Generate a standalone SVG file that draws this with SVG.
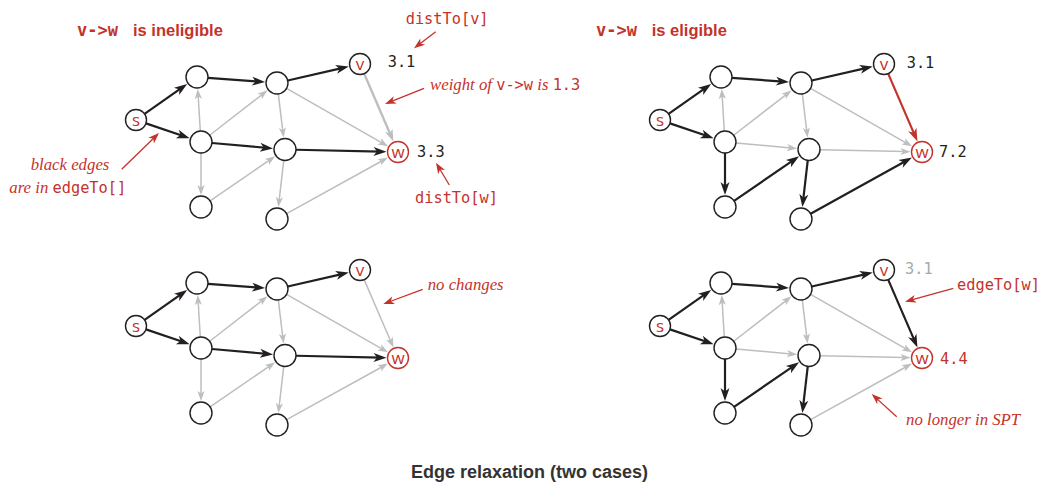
<svg xmlns="http://www.w3.org/2000/svg" width="1044" height="486" viewBox="0 0 1044 486">
<style>
.blk{stroke:#231f20;stroke-width:2.2;fill:none;marker-end:url(#ab)}
.gry{stroke:#bcbec0;stroke-width:1.5;fill:none;marker-end:url(#ag)}
.gryT{stroke:#bcbec0;stroke-width:2.4;fill:none;marker-end:url(#agT)}
.red{stroke:#c4332b;stroke-width:2.2;fill:none;marker-end:url(#ar)}
.ann{stroke:#c4332b;stroke-width:1.3;fill:none;marker-end:url(#aa)}
.nd{fill:#fff;stroke:#231f20;stroke-width:1.4}
.ndr{fill:#fff;stroke:#c4332b;stroke-width:1.4}
.lbl{font-family:"Open Sans","DejaVu Sans",sans-serif;font-size:17px;fill:#c4332b;text-anchor:middle}
.mono{font-family:"DejaVu Sans Mono","Liberation Mono",monospace;font-size:15.3px}
.it{font-family:"Liberation Serif",serif;font-style:italic;font-size:16.8px;fill:#c4332b}
.hd{font-family:"Liberation Sans",sans-serif;font-weight:bold;font-size:16.5px;fill:#c4332b}
.hdm{font-family:"DejaVu Sans Mono",monospace;font-weight:bold;font-size:17px;fill:#c4332b}
.dk{fill:#231f20}
.rd{fill:#c4332b}
</style>
<defs>
<marker id="ab" viewBox="-14 -6 16 12" refX="-6" refY="0" markerWidth="16" markerHeight="12" orient="auto" markerUnits="userSpaceOnUse"><path d="M0,0 L-13,-4.5 L-9.5,0 L-13,4.5 Z" fill="#231f20"/></marker>
<marker id="ar" viewBox="-14 -6 16 12" refX="-6" refY="0" markerWidth="16" markerHeight="12" orient="auto" markerUnits="userSpaceOnUse"><path d="M0,0 L-13,-4.5 L-9.5,0 L-13,4.5 Z" fill="#c4332b"/></marker>
<marker id="agT" viewBox="-14 -6 16 12" refX="-6" refY="0" markerWidth="16" markerHeight="12" orient="auto" markerUnits="userSpaceOnUse"><path d="M0,0 L-12,-4.2 L-9,0 L-12,4.2 Z" fill="#bcbec0"/></marker>
<marker id="ag" viewBox="-12 -5 14 10" refX="-6" refY="0" markerWidth="14" markerHeight="10" orient="auto" markerUnits="userSpaceOnUse"><path d="M0,0 L-10,-3.6 L-7.5,0 L-10,3.6 Z" fill="#bcbec0"/></marker>
<marker id="aa" viewBox="-13 -6 15 12" refX="-5" refY="0" markerWidth="15" markerHeight="12" orient="auto" markerUnits="userSpaceOnUse"><path d="M0,0 L-11,-4 L-8,0 L-11,4 Z" fill="#c4332b"/></marker>
</defs>

<g id="connectors">
 <g id="edges-tl">
  <line class="blk" x1="144.58" y1="113.95" x2="182.29" y2="87.37"/>
  <line class="blk" x1="145.95" y1="123.37" x2="183.95" y2="136.23"/>
  <line class="blk" x1="207.97" y1="77.82" x2="259.05" y2="81.65"/>
  <line class="blk" x1="287.72" y1="80.55" x2="342.94" y2="67.90"/>
  <line class="blk" x1="211.96" y1="142.98" x2="267.07" y2="147.90"/>
  <line class="blk" x1="296" y1="149.74" x2="380.50" y2="151.61"/>
  <line class="gry" x1="200.32" y1="131.02" x2="198.11" y2="94.97"/>
  <line class="gry" x1="209.69" y1="135.25" x2="262.78" y2="94.04"/>
  <line class="gry" x1="278.31" y1="93.92" x2="282.85" y2="131.63"/>
  <line class="gry" x1="286.56" y1="88.45" x2="382.80" y2="143.33"/>
  <line class="gryT" x1="364.16" y1="73.64" x2="391.06" y2="135.93"/>
  <line class="gry" x1="201" y1="153" x2="201" y2="189"/>
  <line class="gry" x1="210.08" y1="200.79" x2="270.15" y2="159.67"/>
  <line class="gry" x1="283.74" y1="160.43" x2="279.06" y2="201.12"/>
  <line class="gry" x1="286.62" y1="213.67" x2="382.69" y2="160.48"/>
 </g>
 <g id="edges-tr" transform="translate(524,0)">
  <line class="blk" x1="144.58" y1="113.95" x2="182.29" y2="87.37"/>
  <line class="blk" x1="145.95" y1="123.37" x2="183.95" y2="136.23"/>
  <line class="blk" x1="207.97" y1="77.82" x2="259.05" y2="81.65"/>
  <line class="blk" x1="287.72" y1="80.55" x2="342.94" y2="67.90"/>
  <line class="gry" x1="211.96" y1="142.98" x2="267.07" y2="147.90"/>
  <line class="gry" x1="296" y1="149.74" x2="380.50" y2="151.61"/>
  <line class="gry" x1="200.32" y1="131.02" x2="198.11" y2="94.97"/>
  <line class="gry" x1="209.69" y1="135.25" x2="262.78" y2="94.04"/>
  <line class="gry" x1="278.31" y1="93.92" x2="282.85" y2="131.63"/>
  <line class="gry" x1="286.56" y1="88.45" x2="382.80" y2="143.33"/>
  <line class="red" x1="364.16" y1="73.64" x2="391.06" y2="135.93"/>
  <line class="blk" x1="201" y1="153" x2="201" y2="189"/>
  <line class="blk" x1="210.08" y1="200.79" x2="270.15" y2="159.67"/>
  <line class="blk" x1="283.74" y1="160.43" x2="279.06" y2="201.12"/>
  <line class="blk" x1="286.62" y1="213.67" x2="382.69" y2="160.48"/>
 </g>
 <g id="edges-bl" transform="translate(0,206)">
  <line class="blk" x1="144.58" y1="113.95" x2="182.29" y2="87.37"/>
  <line class="blk" x1="145.95" y1="123.37" x2="183.95" y2="136.23"/>
  <line class="blk" x1="207.97" y1="77.82" x2="259.05" y2="81.65"/>
  <line class="blk" x1="287.72" y1="80.55" x2="342.94" y2="67.90"/>
  <line class="blk" x1="211.96" y1="142.98" x2="267.07" y2="147.90"/>
  <line class="blk" x1="296" y1="149.74" x2="380.50" y2="151.61"/>
  <line class="gry" x1="200.32" y1="131.02" x2="198.11" y2="94.97"/>
  <line class="gry" x1="209.69" y1="135.25" x2="262.78" y2="94.04"/>
  <line class="gry" x1="278.31" y1="93.92" x2="282.85" y2="131.63"/>
  <line class="gry" x1="286.56" y1="88.45" x2="382.80" y2="143.33"/>
  <line class="gry" x1="364.16" y1="73.64" x2="391.06" y2="135.93"/>
  <line class="gry" x1="201" y1="153" x2="201" y2="189"/>
  <line class="gry" x1="210.08" y1="200.79" x2="270.15" y2="159.67"/>
  <line class="gry" x1="283.74" y1="160.43" x2="279.06" y2="201.12"/>
  <line class="gry" x1="286.62" y1="213.67" x2="382.69" y2="160.48"/>
 </g>
 <g id="edges-br" transform="translate(524,206)">
  <line class="blk" x1="144.58" y1="113.95" x2="182.29" y2="87.37"/>
  <line class="blk" x1="145.95" y1="123.37" x2="183.95" y2="136.23"/>
  <line class="blk" x1="207.97" y1="77.82" x2="259.05" y2="81.65"/>
  <line class="blk" x1="287.72" y1="80.55" x2="342.94" y2="67.90"/>
  <line class="gry" x1="211.96" y1="142.98" x2="267.07" y2="147.90"/>
  <line class="gry" x1="296" y1="149.74" x2="380.50" y2="151.61"/>
  <line class="gry" x1="200.32" y1="131.02" x2="198.11" y2="94.97"/>
  <line class="gry" x1="209.69" y1="135.25" x2="262.78" y2="94.04"/>
  <line class="gry" x1="278.31" y1="93.92" x2="282.85" y2="131.63"/>
  <line class="gry" x1="286.56" y1="88.45" x2="382.80" y2="143.33"/>
  <line class="blk" x1="364.16" y1="73.64" x2="391.06" y2="135.93"/>
  <line class="blk" x1="201" y1="153" x2="201" y2="189"/>
  <line class="blk" x1="210.08" y1="200.79" x2="270.15" y2="159.67"/>
  <line class="blk" x1="283.74" y1="160.43" x2="279.06" y2="201.12"/>
  <line class="gry" x1="286.62" y1="213.67" x2="382.69" y2="160.48"/>
 </g>
 <g id="annotation-arrows">
  <line class="ann" x1="121.7" y1="169.3" x2="155.42" y2="136.49"/>
  <line class="ann" x1="435.7" y1="31.7" x2="417.97" y2="45.26"/>
  <line class="ann" x1="424" y1="88.3" x2="389.64" y2="102.13"/>
  <line class="ann" x1="449.3" y1="185" x2="438.56" y2="166.99"/>
  <line class="ann" x1="422.7" y1="289.3" x2="387.99" y2="302.25"/>
  <line class="ann" x1="953.3" y1="288.3" x2="909.82" y2="300.36"/>
  <line class="ann" x1="896.7" y1="416.7" x2="875.40" y2="397.36"/>
 </g>
</g>

<g id="panel-tl">
 <g id="tl-s"><circle class="nd" cx="136" cy="120" r="10.5"/><text class="lbl" x="136" y="125.5">s</text></g>
 <g id="tl-a"><circle class="nd" cx="197" cy="77" r="11"/></g>
 <g id="tl-b"><circle class="nd" cx="201" cy="142" r="11"/></g>
 <g id="tl-c"><circle class="nd" cx="201" cy="207" r="11"/></g>
 <g id="tl-d"><circle class="nd" cx="277" cy="83" r="11"/></g>
 <g id="tl-e"><circle class="nd" cx="285" cy="149.5" r="11"/></g>
 <g id="tl-f"><circle class="nd" cx="277" cy="219" r="11"/></g>
 <g id="tl-v"><circle class="nd" cx="360" cy="64" r="10.5"/><text class="lbl" x="360" y="69.5">v</text></g>
 <g id="tl-w"><circle class="ndr" cx="398" cy="152" r="10.5"/><text class="lbl" x="398" y="157.5">w</text></g>
</g>
<g id="panel-tr" transform="translate(524,0)">
 <g id="tr-s"><circle class="nd" cx="136" cy="120" r="10.5"/><text class="lbl" x="136" y="125.5">s</text></g>
 <g id="tr-a"><circle class="nd" cx="197" cy="77" r="11"/></g>
 <g id="tr-b"><circle class="nd" cx="201" cy="142" r="11"/></g>
 <g id="tr-c"><circle class="nd" cx="201" cy="207" r="11"/></g>
 <g id="tr-d"><circle class="nd" cx="277" cy="83" r="11"/></g>
 <g id="tr-e"><circle class="nd" cx="285" cy="149.5" r="11"/></g>
 <g id="tr-f"><circle class="nd" cx="277" cy="219" r="11"/></g>
 <g id="tr-v"><circle class="nd" cx="360" cy="64" r="10.5"/><text class="lbl" x="360" y="69.5">v</text></g>
 <g id="tr-w"><circle class="ndr" cx="398" cy="152" r="10.5"/><text class="lbl" x="398" y="157.5">w</text></g>
</g>
<g id="panel-bl" transform="translate(0,206)">
 <g id="bl-s"><circle class="nd" cx="136" cy="120" r="10.5"/><text class="lbl" x="136" y="125.5">s</text></g>
 <g id="bl-a"><circle class="nd" cx="197" cy="77" r="11"/></g>
 <g id="bl-b"><circle class="nd" cx="201" cy="142" r="11"/></g>
 <g id="bl-c"><circle class="nd" cx="201" cy="207" r="11"/></g>
 <g id="bl-d"><circle class="nd" cx="277" cy="83" r="11"/></g>
 <g id="bl-e"><circle class="nd" cx="285" cy="149.5" r="11"/></g>
 <g id="bl-f"><circle class="nd" cx="277" cy="219" r="11"/></g>
 <g id="bl-v"><circle class="nd" cx="360" cy="64" r="10.5"/><text class="lbl" x="360" y="69.5">v</text></g>
 <g id="bl-w"><circle class="ndr" cx="398" cy="152" r="10.5"/><text class="lbl" x="398" y="157.5">w</text></g>
</g>
<g id="panel-br" transform="translate(524,206)">
 <g id="br-s"><circle class="nd" cx="136" cy="120" r="10.5"/><text class="lbl" x="136" y="125.5">s</text></g>
 <g id="br-a"><circle class="nd" cx="197" cy="77" r="11"/></g>
 <g id="br-b"><circle class="nd" cx="201" cy="142" r="11"/></g>
 <g id="br-c"><circle class="nd" cx="201" cy="207" r="11"/></g>
 <g id="br-d"><circle class="nd" cx="277" cy="83" r="11"/></g>
 <g id="br-e"><circle class="nd" cx="285" cy="149.5" r="11"/></g>
 <g id="br-f"><circle class="nd" cx="277" cy="219" r="11"/></g>
 <g id="br-v"><circle class="nd" cx="360" cy="64" r="10.5"/><text class="lbl" x="360" y="69.5">v</text></g>
 <g id="br-w"><circle class="ndr" cx="398" cy="152" r="10.5"/><text class="lbl" x="398" y="157.5">w</text></g>
</g>

<g id="labels">
 <text class="hdm" x="77" y="36">v-&gt;w</text>
 <text class="hd" x="133" y="36">is ineligible</text>
 <text class="hdm" x="596" y="35.5">v-&gt;w</text>
 <text class="hd" x="651.7" y="35.5">is eligible</text>

 <text class="mono rd" x="405.7" y="23.5">distTo[v]</text>
 <text class="mono dk" x="387.7" y="67">3.1</text>
 <text x="430" y="90"><tspan class="it">weight of </tspan><tspan class="mono rd">v-&gt;w</tspan><tspan class="it"> is </tspan><tspan class="mono rd">1.3</tspan></text>
 <text class="mono dk" x="417" y="157">3.3</text>
 <text class="mono rd" x="415" y="203">distTo[w]</text>
 <text class="it" x="70" y="170" text-anchor="middle">black edges</text>
 <text x="9.3" y="193"><tspan class="it">are in </tspan><tspan class="mono rd">edgeTo[]</tspan></text>

 <text class="mono dk" x="906.7" y="67.5">3.1</text>
 <text class="mono dk" x="939" y="157">7.2</text>

 <text class="it" x="427.7" y="290">no changes</text>

 <text class="mono" x="905" y="274" fill="#a7a9ac">3.1</text>
 <text class="mono rd" x="957" y="289.5">edgeTo[w]</text>
 <text class="mono rd" x="940" y="364">4.4</text>
 <text class="it" x="906" y="425">no longer in SPT</text>

 <text x="529.5" y="478" text-anchor="middle" font-family="Liberation Sans, sans-serif" font-weight="bold" font-size="18" fill="#333">Edge relaxation (two cases)</text>
</g>
</svg>
